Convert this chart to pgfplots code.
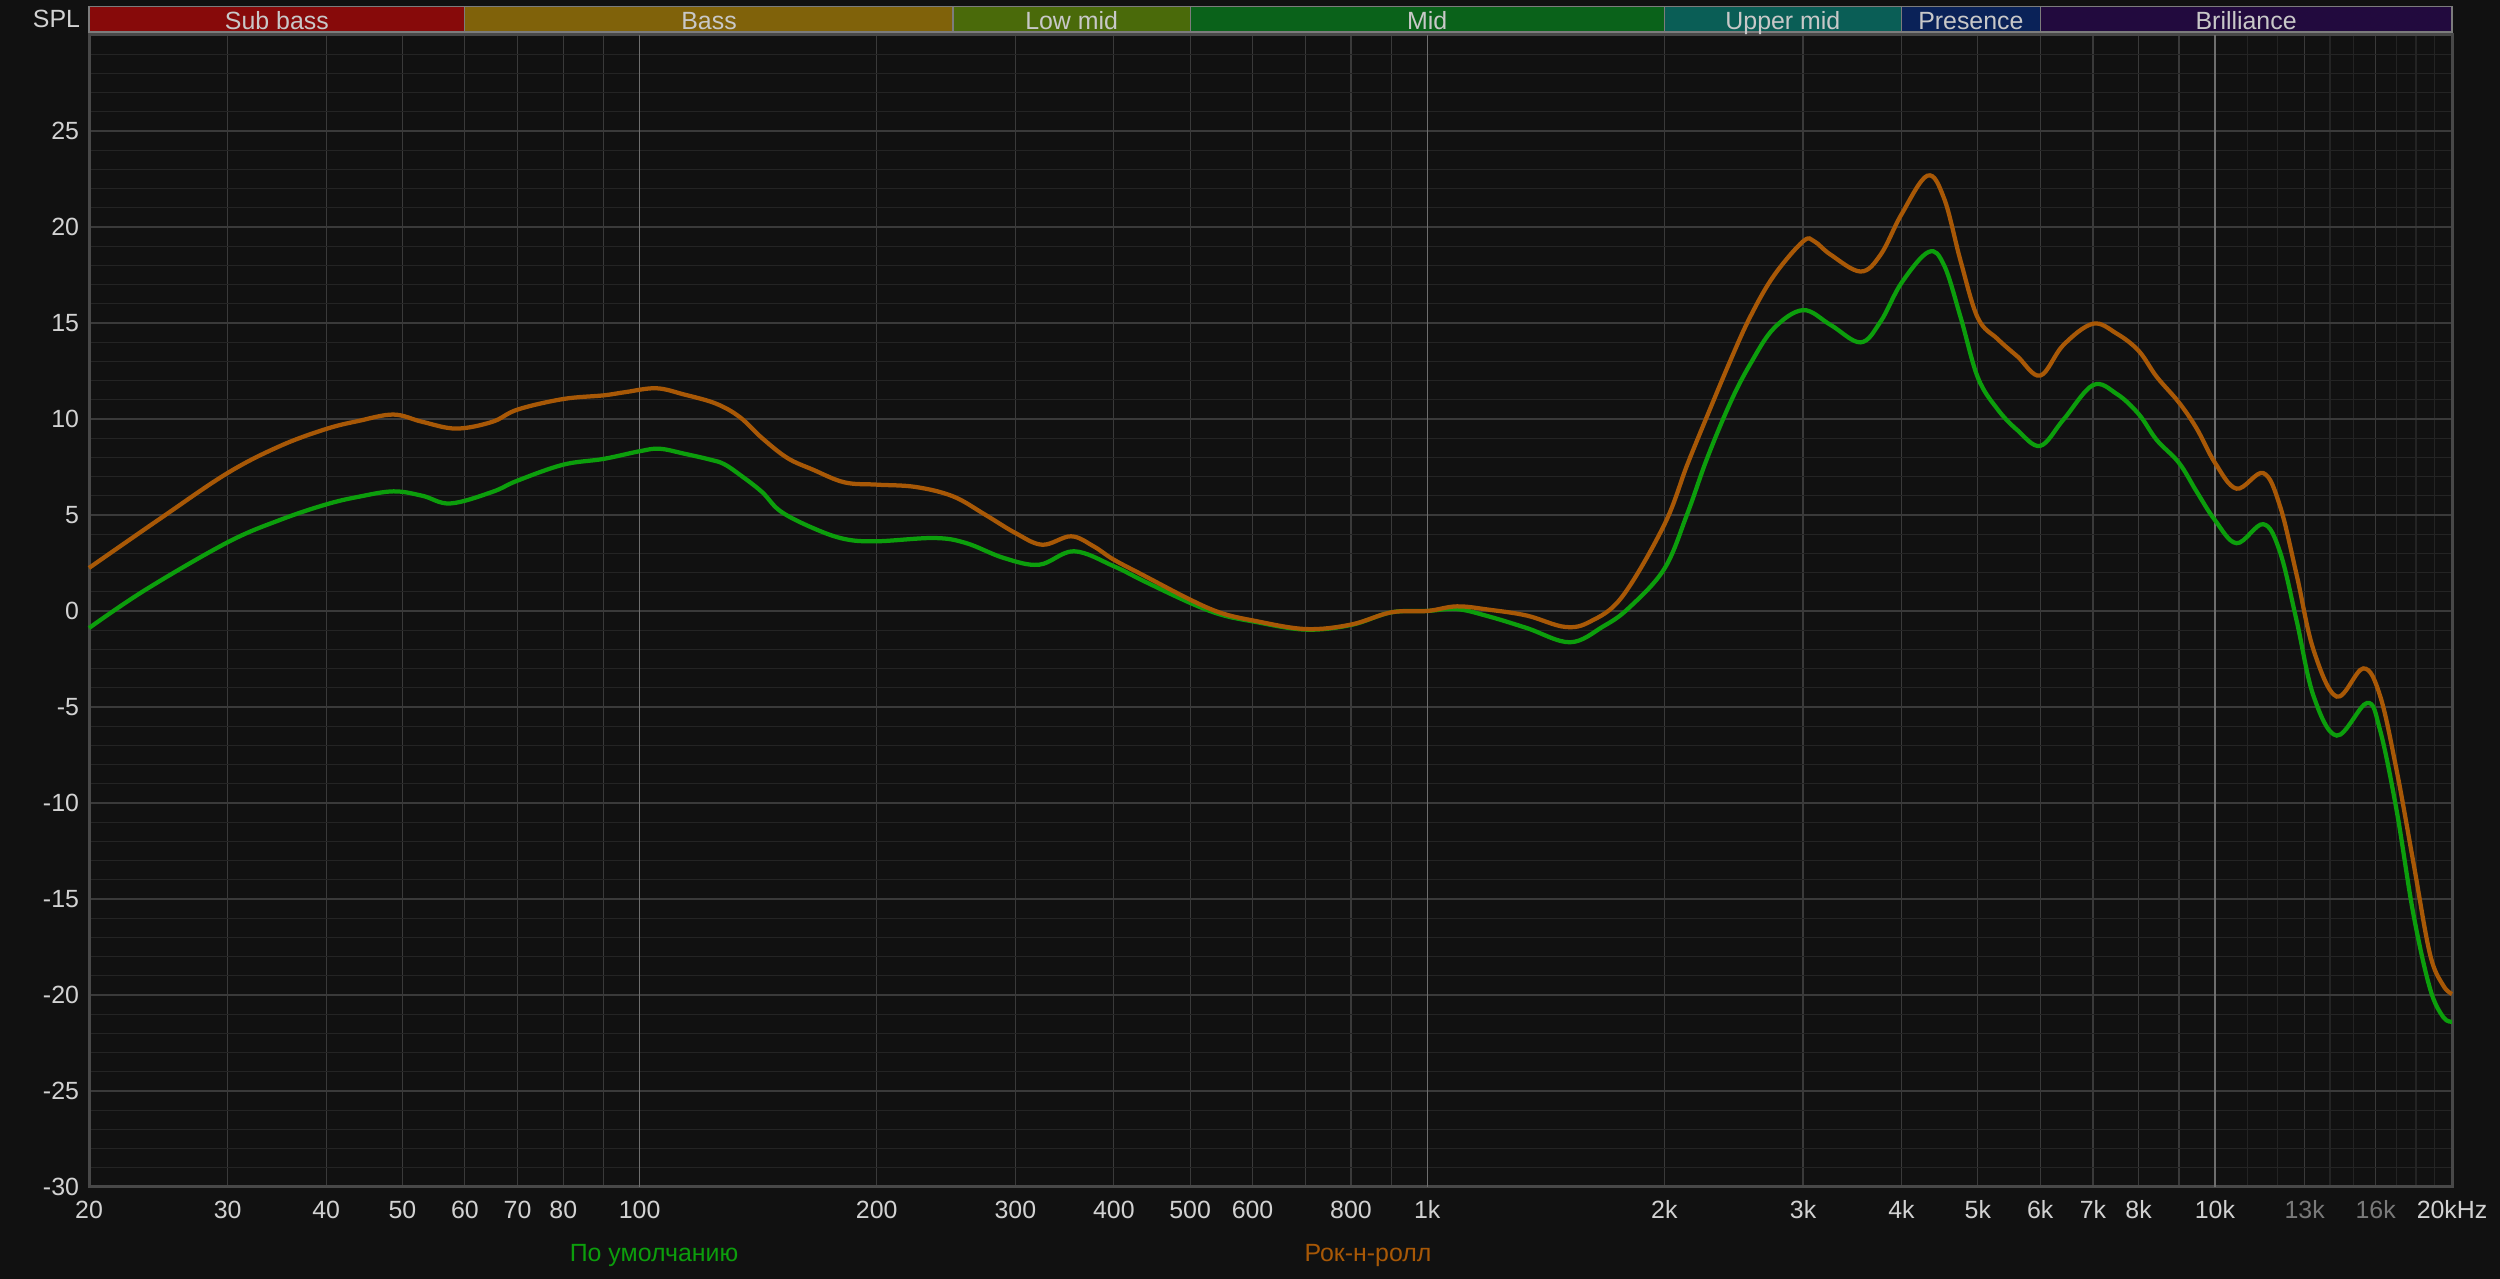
\documentclass[border=0pt]{standalone}
\usepackage{fontspec}
\setmainfont{Liberation Sans}
\usepackage{pgfplots}
\pgfplotsset{compat=1.18}
\definecolor{bg}{HTML}{111111}
\definecolor{gridmaj}{HTML}{3A3A3A}
\definecolor{gridmin}{HTML}{242424}
\definecolor{gridbright}{HTML}{6E6E6E}
\definecolor{frame}{HTML}{484848}
\definecolor{ticktext}{HTML}{D2D2D2}
\definecolor{dimtext}{HTML}{7A7A7A}
\definecolor{bandtext}{HTML}{C8C8C8}
\definecolor{bandborder}{HTML}{7C7C7C}
\definecolor{cSub}{HTML}{870A0A}
\definecolor{cBass}{HTML}{80620A}
\definecolor{cLow}{HTML}{4A6A0A}
\definecolor{cMid}{HTML}{0A621A}
\definecolor{cUpper}{HTML}{0A5E56}
\definecolor{cPres}{HTML}{0A2258}
\definecolor{cBril}{HTML}{220A3E}
\definecolor{cGreen}{HTML}{0C9E0C}
\definecolor{cOrange}{HTML}{A85806}
\begin{document}
\begin{tikzpicture}[x=1bp,y=1bp]
\fill[bg] (0,0) rectangle (1000,511.6);
\begin{axis}[
  at={(35.6bp,36.8bp)}, anchor=south west,
  scale only axis, width=945.2bp, height=460.8bp,
  xmode=log, xmin=20, xmax=20000, ymin=-30, ymax=30,
  clip=false,
  axis background/.style={fill=bg},
  axis line style={draw=frame, line width=1.2bp},
  font=\fontsize{10}{12}\selectfont,
  every tick label/.append style={text=ticktext, font=\fontsize{10}{12}\selectfont},
  major tick length=0pt, minor tick length=0pt,
  tick style={draw=none},
  xtick={20,30,40,50,60,70,80,90,100,200,300,400,500,600,700,800,900,1000,2000,3000,4000,5000,6000,7000,8000,9000,10000,13000,16000,20000},
  xticklabels={20,30,40,50,60,70,80,,100,200,300,400,500,600,,800,,1k,2k,3k,4k,5k,6k,7k,8k,,10k,\textcolor{dimtext}{13k},\textcolor{dimtext}{16k},20kHz},
  minor xtick={11000,12000,14000,15000,17000,18000,19000},
  ytick={-30,-25,-20,-15,-10,-5,0,5,10,15,20,25},
  yticklabels={-30,-25,-20,-15,-10,-5,0,5,10,15,20,25},
  minor ytick={-29,-28,-27,-26,-24,-23,-22,-21,-19,-18,-17,-16,-14,-13,-12,-11,-9,-8,-7,-6,-4,-3,-2,-1,1,2,3,4,6,7,8,9,11,12,13,14,16,17,18,19,21,22,23,24,26,27,28,29},
  grid=both,
  major grid style={draw=gridmaj, line width=0.5bp},
  minor grid style={draw=gridmin, line width=0.5bp},
  extra x ticks={100,1000,10000},
  extra x tick labels={},
  extra x tick style={grid=major, major grid style={draw=gridbright, line width=0.5bp}},
  xticklabel style={yshift=-2bp},
  yticklabel style={xshift=-0.5bp},
]
% frequency bands
\def\bb{30.16}\def\bt{31.5}\def\bl{30.31}
\filldraw[fill=cSub, draw=bandborder, line width=0.5bp] (axis cs:20,\bb) rectangle (axis cs:60,\bt);
\filldraw[fill=cBass, draw=bandborder, line width=0.5bp] (axis cs:60,\bb) rectangle (axis cs:250,\bt);
\filldraw[fill=cLow, draw=bandborder, line width=0.5bp] (axis cs:250,\bb) rectangle (axis cs:500,\bt);
\filldraw[fill=cMid, draw=bandborder, line width=0.5bp] (axis cs:500,\bb) rectangle (axis cs:2000,\bt);
\filldraw[fill=cUpper, draw=bandborder, line width=0.5bp] (axis cs:2000,\bb) rectangle (axis cs:4000,\bt);
\filldraw[fill=cPres, draw=bandborder, line width=0.5bp] (axis cs:4000,\bb) rectangle (axis cs:6000,\bt);
\filldraw[fill=cBril, draw=bandborder, line width=0.5bp] (axis cs:6000,\bb) rectangle (axis cs:20000,\bt);
\node[text=bandtext, inner sep=0pt, anchor=base] at (axis cs:34.64,\bl) {Sub bass};
\node[text=bandtext, inner sep=0pt, anchor=base] at (axis cs:122.5,\bl) {Bass};
\node[text=bandtext, inner sep=0pt, anchor=base] at (axis cs:353.6,\bl) {Low mid};
\node[text=bandtext, inner sep=0pt, anchor=base] at (axis cs:1000,\bl) {Mid};
\node[text=bandtext, inner sep=0pt, anchor=base] at (axis cs:2828,\bl) {Upper mid};
\node[text=bandtext, inner sep=0pt, anchor=base] at (axis cs:4899,\bl) {Presence};
\node[text=bandtext, inner sep=0pt, anchor=base] at (axis cs:10954,\bl) {Brilliance};

% По умолчанию
\addplot[cGreen, line width=1.7bp, smooth, tension=0.6] coordinates {
(20,-0.89) (23.6,1.11) (30,3.58) (35,4.75) (40,5.55) (44,5.95) (48.7,6.23) (53,6.0) (57.5,5.6) (65,6.2) (70,6.79) (80,7.62) (90,7.92) (100,8.32) (106,8.45) (114,8.19) (123,7.88) (128,7.65) (134,7.1) (143,6.2) (151,5.19) (166,4.32) (182,3.75) (200,3.63) (236.5,3.80) (259.6,3.54) (290,2.76) (321.6,2.41) (356,3.11) (400,2.33) (437,1.55) (500,0.42) (547,-0.19) (600,-0.54) (700,-0.97) (800,-0.73) (900,-0.07) (1000,0) (1090,0.1) (1196,-0.28) (1338,-0.89) (1518,-1.63) (1673,-0.8) (1803,0.16) (2000,2.2) (2137,5.03) (2266,7.95) (2427,10.88) (2573,12.89) (2754,14.72) (3000,15.67) (3251,14.9) (3549,13.99) (3764,15.08) (4000,17.09) (4330,18.7) (4531,18.0) (4757,15.26) (5000,12.16) (5296,10.51) (5616,9.41) (6000,8.6) (6420,9.96) (7000,11.76) (7503,11.31) (8000,10.26) (8433,8.91) (9000,7.72) (9478,6.22) (10000,4.73) (10654,3.53) (11519,4.52) (12093,3.08) (12697,-0.51) (13333,-4.4) (14275,-6.49) (15600,-4.79) (16200,-6.19) (17007,-10.38) (17857,-15.76) (18750,-19.65) (19490,-21.15) (20000,-21.39)
};
% Рок-н-ролл
\addplot[cOrange, line width=1.7bp, smooth, tension=0.6] coordinates {
(20,2.24) (24.6,4.8) (30,7.19) (35,8.6) (40,9.48) (44,9.9) (48.7,10.23) (53,9.85) (58.5,9.5) (65,9.85) (70,10.49) (80,11.04) (90,11.23) (96,11.4) (105,11.6) (114,11.27) (125,10.8) (134,10.1) (143,9.01) (154,7.97) (166,7.36) (182,6.70) (200,6.58) (224,6.46) (250,5.97) (274.5,5.02) (300,4.06) (324.6,3.45) (353,3.89) (377,3.37) (400,2.67) (437,1.84) (500,0.59) (547,-0.1) (600,-0.49) (700,-0.94) (800,-0.71) (900,-0.07) (1000,0) (1090,0.24) (1196,0.07) (1338,-0.24) (1496,-0.83) (1612,-0.54) (1769,0.76) (2000,4.5) (2137,7.59) (2266,10.15) (2427,13.07) (2573,15.36) (2754,17.46) (3000,19.25) (3100,19.25) (3251,18.56) (3549,17.68) (3764,18.56) (4000,20.66) (4314,22.67) (4531,21.48) (4757,18.19) (5000,15.26) (5296,14.17) (5616,13.25) (6000,12.26) (6420,13.85) (7000,14.96) (7503,14.45) (8000,13.55) (8433,12.2) (9000,10.86) (9478,9.51) (10000,7.72) (10654,6.37) (11519,7.18) (12093,5.47) (12697,1.88) (13333,-2.0) (14275,-4.46) (15431,-2.99) (16200,-4.4) (17007,-8.29) (17857,-13.07) (18750,-17.86) (19490,-19.5) (20000,-19.95)
};
\end{axis}
\node[text=ticktext, anchor=east, inner sep=0pt, font=\fontsize{10}{12}\selectfont] at (32.2,504.2) {SPL};
\node[text=cGreen, inner sep=0pt, font=\fontsize{10}{12}\selectfont] at (261.6,9.2) {По умолчанию};
\node[text=cOrange, inner sep=0pt, font=\fontsize{10}{12}\selectfont] at (547.2,9.2) {Рок-н-ролл};
\end{tikzpicture}
\end{document}
